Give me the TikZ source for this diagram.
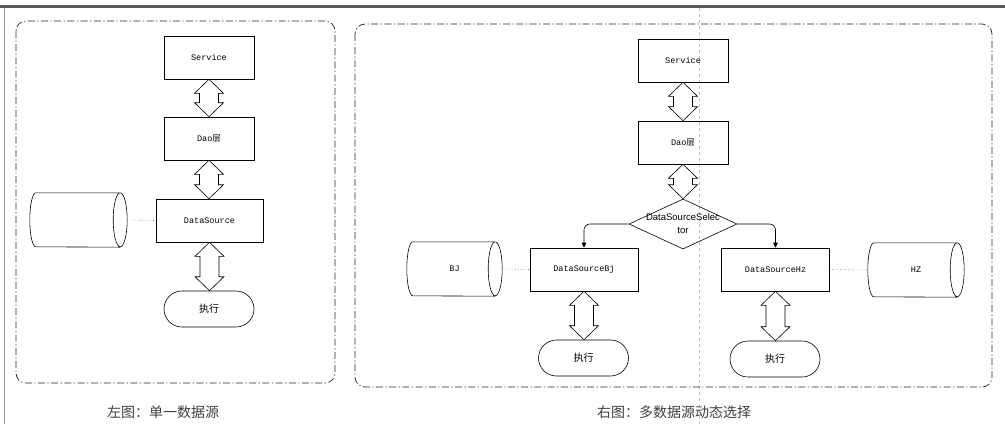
\documentclass[tikz,border=0pt]{standalone}
\usepackage{fontspec}
\setmainfont{Liberation Sans}
\newfontfamily\cjk{Noto Sans CJK SC}
\newfontfamily\boxfont{Liberation Mono}
\usetikzlibrary{shapes.geometric,arrows.meta,calc}
\newcommand{\boxheight}{43pt}
\newcommand{\headlen}{14pt}
\newcommand{\headhalf}{14.5pt}
\newcommand{\shafthalf}{9.5pt}
\newcommand{\dblarrow}[2]{%
  \draw[fatarrow] let \p1=(#1.south), \p2=(#2.north) in
    (\x1,\y1) -- (\x1-\headhalf,\y1-\headlen) -- (\x1-\shafthalf,\y1-\headlen)
    -- (\x1-\shafthalf,\y2+\headlen) -- (\x1-\headhalf,\y2+\headlen) -- (\x1,\y2)
    -- (\x1+\headhalf,\y2+\headlen) -- (\x1+\shafthalf,\y2+\headlen)
    -- (\x1+\shafthalf,\y1-\headlen) -- (\x1+\headhalf,\y1-\headlen) -- cycle;}
% drum drawn round a database node
\newcommand{\dbshape}[1]{%
  \draw[dbline] ($(#1.north east)+(-7pt,0)$) arc[start angle=90, end angle=450, x radius=7pt, y radius=27pt]
    -- ($(#1.north west)+(6pt,0)$) arc[start angle=90, end angle=270, x radius=6pt, y radius=27pt]
    -- ($(#1.south east)+(-7pt,0)$);}
\tikzset{
  proc/.style={draw, line width=0.6pt, minimum width=90pt, minimum height=\boxheight, inner sep=0pt,
    font=\boxfont\fontsize{8.5}{10}\selectfont},
  term/.style={draw, line width=0.6pt, rounded corners=18pt, minimum width=90pt, minimum height=36pt,
    font=\cjk\fontsize{10}{12}\selectfont},
  db/.style={minimum width=96pt, minimum height=54pt, inner sep=0pt,
    font=\boxfont\fontsize{8.5}{10}\selectfont},
  dbline/.style={line width=0.6pt},
  sel/.style={draw, line width=0.6pt, diamond, minimum width=108pt, minimum height=50pt, inner sep=0pt},
  seltext/.style={align=center, inner sep=0pt, font=\fontsize{9.5}{13}\selectfont},
  fatarrow/.style={line width=0.6pt, fill=white},
  link/.style={dotted, black!55, line width=0.6pt},
  branch/.style={-{Triangle[length=5pt,width=4.5pt]}, rounded corners=6pt, line width=0.6pt},
  panel/.style={draw=black!85, line width=0.7pt, rounded corners=10pt,
    dash pattern=on 7pt off 2.5pt on 1.2pt off 2.5pt},
  caption/.style={font=\cjk\fontsize{14}{16}\selectfont, text=black!75}
}
\begin{document}
\begin{tikzpicture}[x=1pt,y=-1pt]
\useasboundingbox (0,0) rectangle (1005,424);

% page edges
\fill[black!65] (0,5) rectangle (1005,8);
\draw[black!40, line width=0.5pt] (4,8) -- (4,424);
\draw[black!25, dashed, line width=0.5pt] (699,8) -- (699,424);

% Left: single data source
\draw[panel] (16,21) rectangle (335,383);
\node (SvL) [proc] at (209,57.5) {Service};
\node (DaoL) [proc] at (209,138.5) {Dao{\cjk 层}};
\node (DSL) [proc, minimum width=107pt] at (209.5,220.5) {DataSource};
\node (ExL) [term] at (209,309) {执行};
\node (DBL) [db, minimum width=97pt] at (78.5,220) {};
\dbshape{DBL}
\dblarrow{SvL}{DaoL}
\dblarrow{DaoL}{DSL}
\dblarrow{DSL}{ExL}
\draw[link] (DBL.east) -- (DSL.west);
\node (CapL) [caption] at (163,412) {左图：单一数据源};

% Right: dynamic choice of data source
\draw[panel] (355,24) rectangle (992,387);
\node (SvR) [proc] at (683,60.5) {Service};
\node (DaoR) [proc] at (683,142.5) {Dao{\cjk 层}};
\node (Sel) [sel] at (683,224) {};
\node [seltext] at (Sel) {DataSourceSelec\\tor};
\node (DSBj) [proc, minimum width=108pt] at (584,269.5) {DataSourceBj};
\node (DSHz) [proc, minimum width=108pt] at (775.5,269.5) {DataSourceHz};
\node (ExBj) [term] at (583.5,358) {执行};
\node (ExHz) [term] at (775,359) {执行};
\node (DBBj) [db, minimum width=95pt] at (454.5,269) {BJ};
\node (DBHz) [db] at (916,270) {HZ};
\dbshape{DBBj}
\dbshape{DBHz}
\dblarrow{SvR}{DaoR}
\dblarrow{DaoR}{Sel}
\dblarrow{DSBj}{ExBj}
\dblarrow{DSHz}{ExHz}
\draw[branch] (Sel.west) -| (DSBj.north);
\draw[branch] (Sel.east) -| (DSHz.north);
\draw[link] (DBBj.east) -- (DSBj.west);
\draw[link] (DSHz.east) -- (DBHz.west);
\node (CapR) [caption] at (674,412) {右图：多数据源动态选择};

\end{tikzpicture}
\end{document}
